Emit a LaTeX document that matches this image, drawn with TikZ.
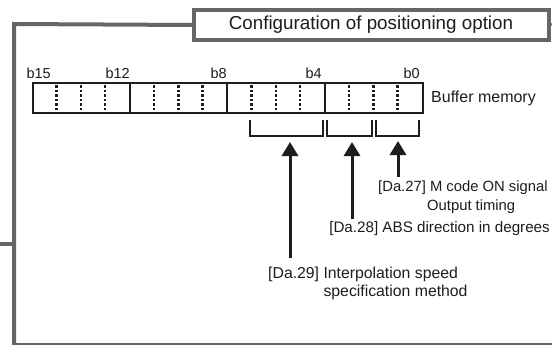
\documentclass[tikz,border=0pt]{standalone}
\usepackage{fontspec}
\setmainfont{Liberation Sans}
\usetikzlibrary{arrows.meta,calc}
\definecolor{framegray}{RGB}{102,102,102}
\definecolor{ink}{RGB}{30,28,28}
\begin{document}
\begin{tikzpicture}[x=1pt,y=-1pt,
  frameline/.style={draw=framegray,line width=4pt},
  regline/.style={draw=ink,line width=2pt},
  bitdots/.style={draw=ink,line width=2.5pt,dash pattern=on 2.5pt off 2pt},
  bracketline/.style={draw=ink,line width=1.8pt},
  uparrow/.style={draw=ink,line width=3pt,-{Triangle[width=16pt,length=14pt]}},
  txt/.style={inner sep=0pt,text=ink,font=\fontsize{15.8}{18}\selectfont},
  bitlabel/.style={inner sep=0pt,text=ink,font=\fontsize{14.5}{16}\selectfont,anchor=base east}
]
\useasboundingbox (0,0) rectangle (552,345);
% frame
\node (title) [frameline,fill=white,minimum width=355pt,minimum height=30pt,inner sep=0pt,anchor=north west] at (192,8) {};
\node (titletext) [inner sep=0pt,anchor=base,text=ink,font=\fontsize{18.8}{20}\selectfont] at (371,29.5) {Configuration of positioning option};
\coordinate (ftl) at (14,24);
\coordinate (fbl) at (14,344);
\coordinate (fbr) at (552,344);
\coordinate (fr) at (552,24);
\coordinate (stubl) at (0,244);
\coordinate (stubr) at (14,244);
\draw[frameline,line cap=rect] (fbl) -- (ftl) -- (title.west);
\draw[frameline] (title.east) -- (fr);
\draw[frameline] (stubl) -- (stubr);
\draw[draw=framegray,line width=2.2pt] (13,344) -- (fbr);
% register
\node (reg) [regline,minimum width=390pt,minimum height=30pt,inner sep=0pt,anchor=north west] at (32,82) {};
\foreach \k in {1,2,3} {
  \draw[regline] ($(reg.north west)+(\k*97.5,0)$) -- ($(reg.south west)+(\k*97.5,0)$);
}
\foreach \k in {1,2,3,5,6,7,9,10,11,13,14,15} {
  \draw[bitdots] ($(reg.north west)+(\k*24.375,3.5)$) -- ($(reg.south west)+(\k*24.375,-2)$);
}
\node (b15) [bitlabel] at (51,78) {b15};
\node (b12) [bitlabel] at (130,78) {b12};
\node (b8) [bitlabel] at (227,78) {b8};
\node (b4) [bitlabel] at (322,78) {b4};
\node (b0) [bitlabel] at (420,78) {b0};
\node (bm) [txt,anchor=base west,font=\fontsize{16}{18}\selectfont] at (431,102.5) {Buffer memory};
% brackets
\draw[bracketline] (250,120) -- (250,136) -- (323,136) -- (323,120);
\draw[bracketline] (327,120) -- (327,136) -- (372,136) -- (372,120);
\draw[bracketline] (376,120) -- (376,136) -- (419,136) -- (419,120);
% labels
\node (l27) [txt,anchor=base west,font=\fontsize{14.8}{17}\selectfont] at (378,191) {[Da.27] M code ON signal};
\node (l27b) [txt,anchor=base west,font=\fontsize{14.8}{17}\selectfont] at ($(l27.base west)+(49,19)$) {Output timing};
\node (l28) [txt,anchor=base east,font=\fontsize{15.2}{17}\selectfont] at (550,232) {[Da.28] ABS direction in degrees};
\node (l29) [txt,anchor=base west] at (268,278) {[Da.29] Interpolation speed};
\node (l29b) [txt,anchor=base west] at ($(l29.base west)+(0,18)$) {\hphantom{[Da.29] }specification method};
% arrows
\coordinate (s1) at (290,258);
\coordinate (t1) at (290,142);
\coordinate (s2) at (352,219);
\coordinate (t2) at (352,142);
\coordinate (s3) at (398,177);
\coordinate (t3) at (398,141);
\draw[uparrow] (s1) -- (t1);
\draw[uparrow] (s2) -- (t2);
\draw[uparrow] (s3) -- (t3);
\end{tikzpicture}
\end{document}
